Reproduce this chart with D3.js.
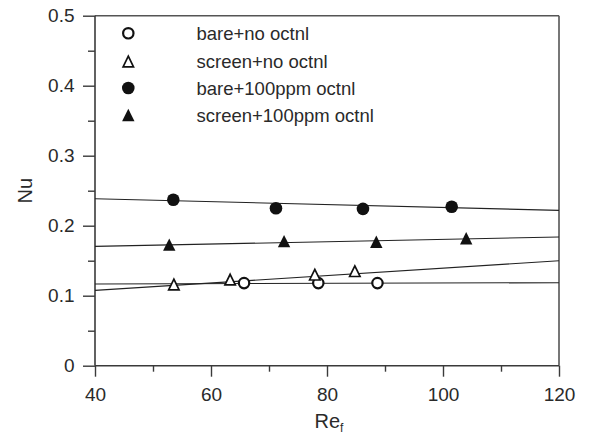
<!DOCTYPE html>
<html>
<head>
<meta charset="utf-8">
<script src="https://cdn.jsdelivr.net/npm/d3@7"></script>
<style>
  html, body { margin: 0; padding: 0; background: #fff; }
  svg { display: block; font-family: Arial, "Liberation Sans", sans-serif; }
</style>
</head>
<body>
<svg id="chart" width="589" height="434"></svg>
<script>
// ---- data ----
const seriesNames = ["bare+no octnl", "screen+no octnl", "bare+100ppm octnl", "screen+100ppm octnl"];
const seriesShapes = ["circleOpen", "triangleOpen", "circleFilled", "triangleFilled"];

const bareNoRe = [65.7, 78.5, 88.7];
const bareNoNu = [0.118, 0.118, 0.118];

const screenNoRe = [53.6, 63.3, 77.9, 84.8];
const screenNoNu = [0.116, 0.123, 0.130, 0.135];

const bare100Re = [53.5, 71.2, 86.2, 101.5];
const bare100Nu = [0.237, 0.225, 0.224, 0.227];

const screen100Re = [52.8, 72.6, 88.5, 104.0];
const screen100Nu = [0.173, 0.178, 0.177, 0.182];

// fitted lines: Nu at Re = 40 and Re = 120
const fitRe = [40, 120];
const fitNuStart = [0.1167, 0.1076, 0.2386, 0.1704];
const fitNuEnd = [0.1186, 0.1500, 0.2219, 0.1839];

const xTicks = [40, 60, 80, 100, 120];
const xMinorTicks = [50, 70, 90, 110];
const yTicks = [0, 0.1, 0.2, 0.3, 0.4, 0.5];
const yMinorTicks = [0.05, 0.15, 0.25, 0.35, 0.45];

(function () {
// ---- layout ----
const svg = d3.select("#chart");
const pL = 95, pR = 559, pT = 15.7, pB = 365.7;
const x = d3.scaleLinear().domain([40, 120]).range([pL, pR]);
const y = d3.scaleLinear().domain([0, 0.5]).range([pB, pT]);

const axisColor = "#3a3a3a";
const textColor = "#2a2a2a";
const markColor = "#111";

// frame (top and right)
svg.append("line").attr("x1", pL).attr("x2", pR).attr("y1", pT).attr("y2", pT)
  .attr("stroke", "#555").attr("stroke-width", 1.6);
svg.append("line").attr("x1", pR).attr("x2", pR).attr("y1", pT).attr("y2", pB)
  .attr("stroke", "#555").attr("stroke-width", 1.6);

// x axis
const xAxis = svg.append("g").attr("transform", `translate(0,${pB})`)
  .call(d3.axisBottom(x).tickValues(xTicks).tickSize(11).tickPadding(11).tickFormat(d3.format("d")));
const xMinor = svg.append("g").attr("transform", `translate(0,${pB})`)
  .call(d3.axisBottom(x).tickValues(xMinorTicks).tickSize(6).tickFormat(""));
xMinor.select(".domain").remove();

// y axis
const yAxis = svg.append("g").attr("transform", `translate(${pL},0)`)
  .call(d3.axisLeft(y).tickValues(yTicks).tickSize(12).tickPadding(8.5)
    .tickFormat(d => d === 0 ? "0" : d3.format(".1f")(d)));
const yMinor = svg.append("g").attr("transform", `translate(${pL},0)`)
  .call(d3.axisLeft(y).tickValues(yMinorTicks).tickSize(7).tickFormat(""));
yMinor.select(".domain").remove();

[xAxis, yAxis, xMinor, yMinor].forEach(g => {
  g.selectAll(".domain").attr("stroke", axisColor).attr("stroke-width", 1.6);
  g.selectAll(".tick line").attr("stroke", axisColor).attr("stroke-width", 1.4);
  g.selectAll(".tick text").attr("fill", textColor).attr("font-size", "19px")
    .attr("font-family", "Arial, 'Liberation Sans', sans-serif");
});
xAxis.selectAll(".domain").attr("d", `M${pL},0H${pR}`);
yAxis.selectAll(".domain").attr("d", `M0,${pB}V${pT}`);

// axis titles
svg.append("text").attr("transform", `translate(31.5,${(pT + pB) / 2}) rotate(-90)`)
  .attr("text-anchor", "middle").attr("font-size", "20px").attr("fill", textColor).text("Nu");
const xt = svg.append("text").attr("x", (pL + pR) / 2 + 2).attr("y", 428)
  .attr("text-anchor", "middle").attr("font-size", "20px").attr("fill", textColor);
xt.append("tspan").text("Re");
xt.append("tspan").attr("font-size", "12px").attr("dy", 4).text("f");

// fit lines
const lineGen = d3.line().x(d => x(d[0])).y(d => y(d[1]));
seriesNames.forEach((name, i) => {
  svg.append("path")
    .attr("d", lineGen([[fitRe[0], fitNuStart[i]], [fitRe[1], fitNuEnd[i]]]))
    .attr("fill", "none").attr("stroke", "#222").attr("stroke-width", 1.1);
});

// markers
function drawMarker(g, shape, cx, cy) {
  if (shape === "circleOpen") {
    g.append("circle").attr("cx", cx).attr("cy", cy).attr("r", 5.2)
      .attr("fill", "#fff").attr("stroke", markColor).attr("stroke-width", 2.2);
  } else if (shape === "circleFilled") {
    g.append("circle").attr("cx", cx).attr("cy", cy).attr("r", 6.3).attr("fill", markColor);
  } else if (shape === "triangleOpen") {
    const w = 10.4, h = 10.6;
    g.append("path")
      .attr("d", `M${cx},${cy - h / 2}L${cx + w / 2},${cy + h / 2}L${cx - w / 2},${cy + h / 2}Z`)
      .attr("fill", "#fff").attr("stroke", markColor).attr("stroke-width", 1.7)
      .attr("stroke-linejoin", "miter");
  } else {
    const w = 12.4, h = 12.4;
    g.append("path")
      .attr("d", `M${cx},${cy - h / 2}L${cx + w / 2},${cy + h / 2}L${cx - w / 2},${cy + h / 2}Z`)
      .attr("fill", markColor);
  }
}

const seriesData = [
  [bareNoRe, bareNoNu],
  [screenNoRe, screenNoNu],
  [bare100Re, bare100Nu],
  [screen100Re, screen100Nu]
];
const marks = svg.append("g");
seriesData.forEach((s, i) => {
  s[0].forEach((re, j) => drawMarker(marks, seriesShapes[i], x(re), y(s[1][j])));
});

// legend
const legendY = [33.3, 61.5, 88, 115];
const legend = svg.append("g");
seriesNames.forEach((name, i) => {
  drawMarker(legend, seriesShapes[i], 128.3, legendY[i]);
  legend.append("text").attr("x", 196.5).attr("y", legendY[i] + 6.8)
    .attr("font-size", "18.5px").attr("fill", textColor).text(name);
});
})();
</script>
</body>
</html>
